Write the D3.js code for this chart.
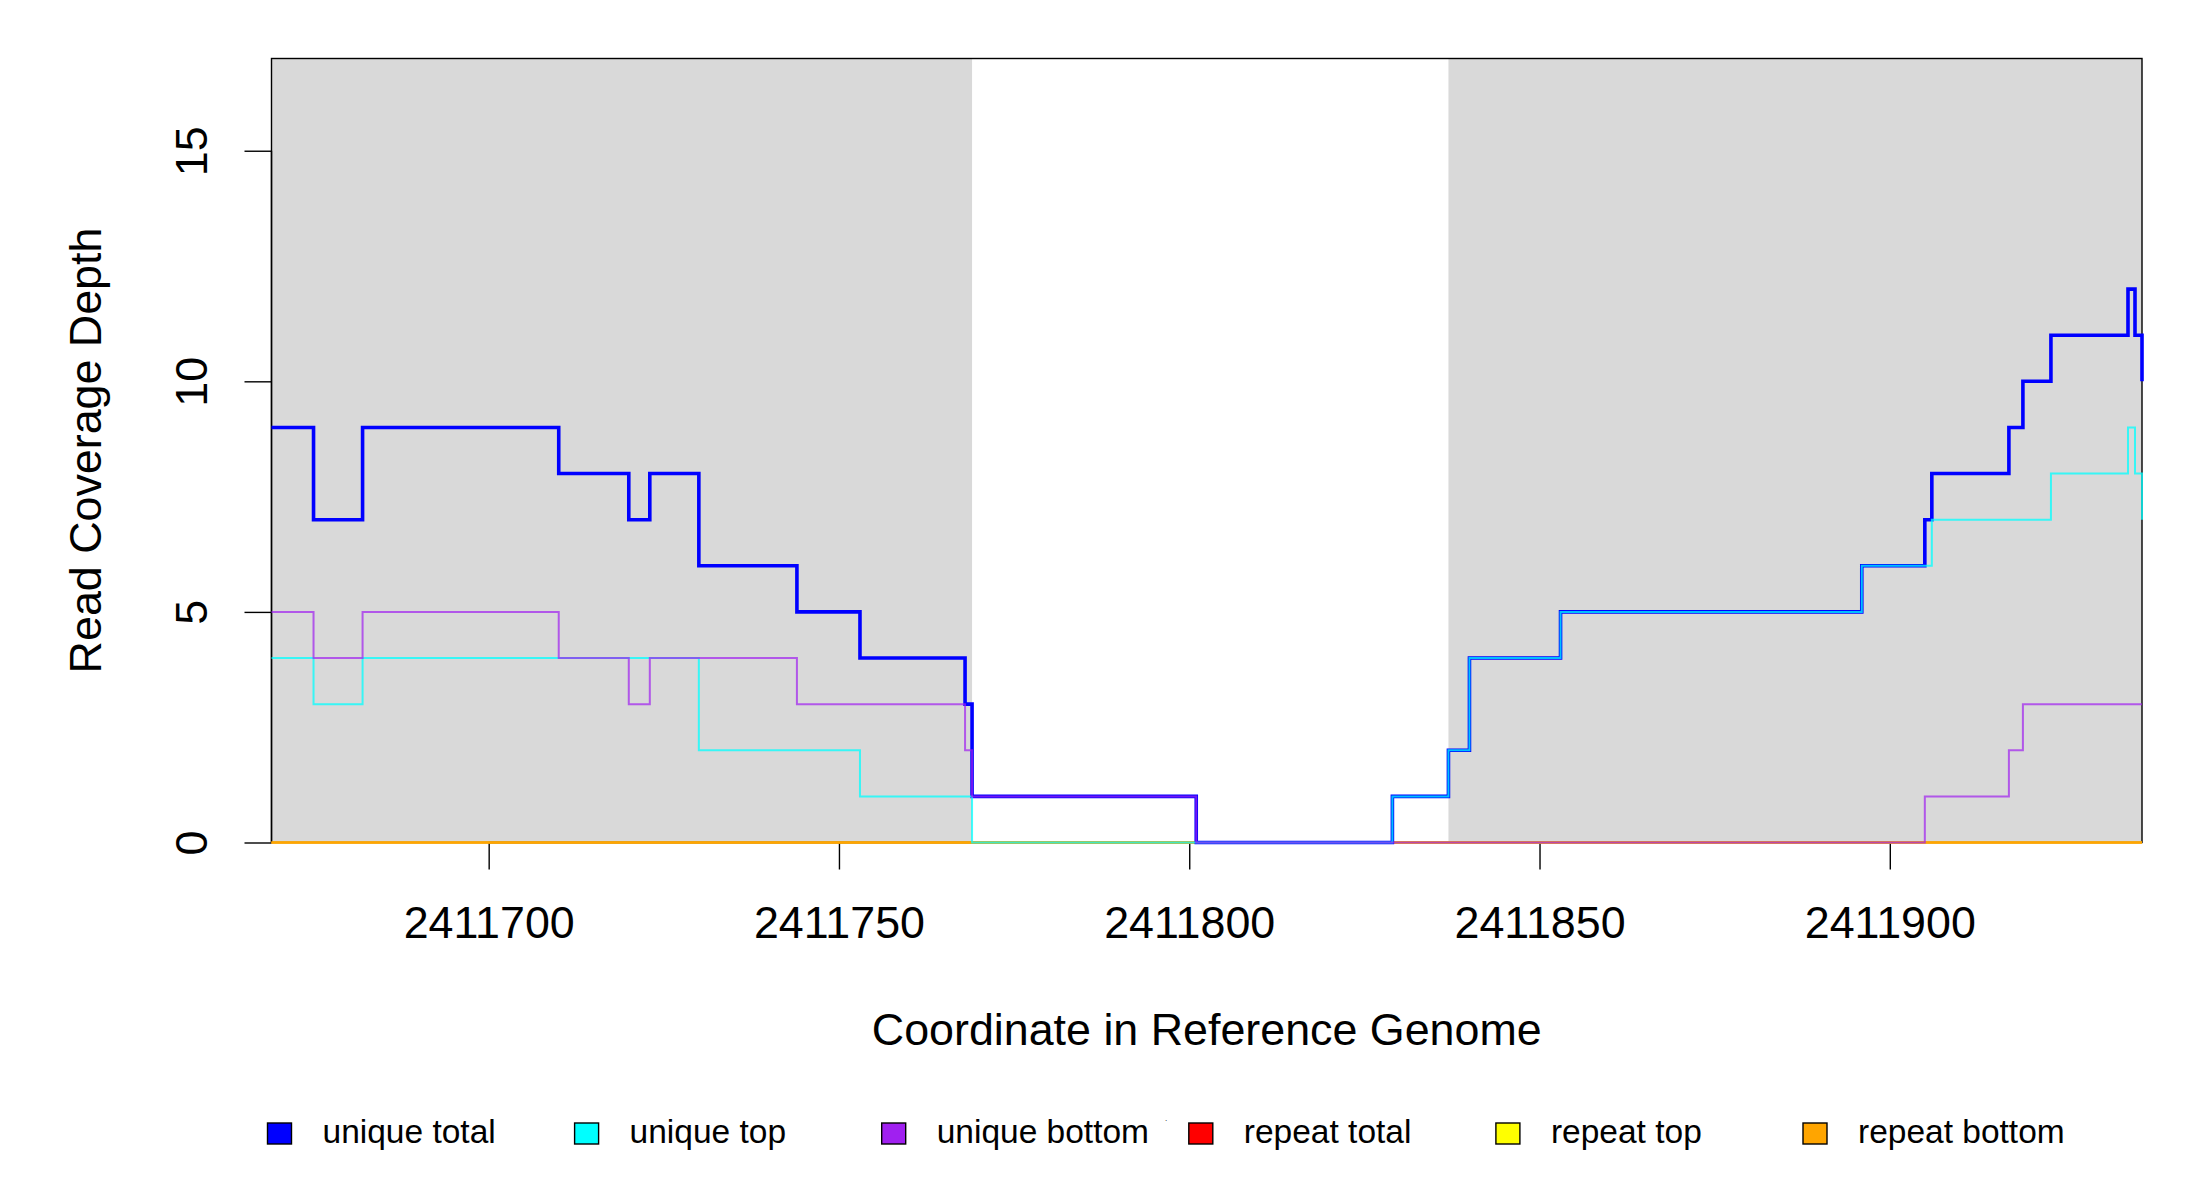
<!DOCTYPE html>
<html>
<head>
<meta charset="utf-8">
<script src="https://cdn.jsdelivr.net/npm/d3@7"></script>
<style>
  html, body { margin: 0; padding: 0; background: #fff; }
  svg { display: block; font-family: "Liberation Sans", Arial, sans-serif; }
</style>
</head>
<body>
<script>
// ---- data (step change points: coordinate -> depth) ----
const xDomain = [2411669, 2411936];
const yDomain = [0, 17];
const xTicks = [2411700, 2411750, 2411800, 2411850, 2411900];
const yTicks = [0, 5, 10, 15];
const shadedRegions = [[2411669, 2411769], [2411837, 2411936]];

const uniqueTotalX = [2411669, 2411675, 2411682, 2411710, 2411720, 2411723, 2411730, 2411744, 2411753, 2411768, 2411769, 2411801, 2411829, 2411837, 2411840, 2411853, 2411896, 2411905, 2411906, 2411917, 2411919, 2411923, 2411934, 2411935, 2411936];
const uniqueTotalY = [9, 7, 9, 8, 7, 8, 6, 5, 4, 3, 1, 0, 1, 2, 4, 5, 6, 7, 8, 9, 10, 11, 12, 11, 10];

const uniqueTopX = [2411669, 2411675, 2411682, 2411730, 2411753, 2411769, 2411829, 2411837, 2411840, 2411853, 2411896, 2411906, 2411923, 2411934, 2411935, 2411936];
const uniqueTopY = [4, 3, 4, 2, 1, 0, 1, 2, 4, 5, 6, 7, 8, 9, 8, 7];

const uniqueBottomX = [2411669, 2411675, 2411682, 2411710, 2411720, 2411723, 2411744, 2411768, 2411769, 2411801, 2411905, 2411917, 2411919, 2411936];
const uniqueBottomY = [5, 4, 5, 4, 3, 4, 3, 2, 1, 0, 1, 2, 3, 3];

const repeatTotalX = [2411669, 2411936];
const repeatTotalY = [0, 0];
const repeatTopX = [2411669, 2411936];
const repeatTopY = [0, 0];
const repeatBottomX = [2411669, 2411936];
const repeatBottomY = [0, 0];

const legendLabels = ["unique total", "unique top", "unique bottom", "repeat total", "repeat top", "repeat bottom"];
const legendColors = ["#0000FF", "#00FFFF", "#A020F0", "#FF0000", "#FFFF00", "#FFA500"];

const xLabel = "Coordinate in Reference Genome";
const yLabel = "Read Coverage Depth";

// ---- layout ----
const W = 2200, H = 1200;
const L = 271.5, R = 2142, T = 58.5, B = 842.5;
const bigFont = 44.8;

const svg = d3.select("body").append("svg").attr("width", W).attr("height", H);

const x = d3.scaleLinear().domain(xDomain).range([L, R]);
const y = d3.scaleLinear().domain(yDomain).range([B, T]);

// shaded regions
svg.append("g").selectAll("rect").data(shadedRegions).join("rect")
  .attr("x", d => x(d[0])).attr("y", T)
  .attr("width", d => x(d[1]) - x(d[0])).attr("height", B - T)
  .attr("fill", "#D9D9D9");

// box
svg.append("rect").attr("x", L).attr("y", T).attr("width", R - L).attr("height", B - T)
  .attr("fill", "none").attr("stroke", "#000").attr("stroke-width", 1.4);

// axes
const xAxis = d3.axisBottom(x).tickValues(xTicks).tickFormat(d3.format("d")).tickSize(27).tickPadding(0);
const gx = svg.append("g").attr("transform", `translate(0,${B})`).call(xAxis);
gx.select(".domain").attr("d", `M${x(xTicks[0])},0H${x(xTicks[xTicks.length - 1])}`).attr("stroke-width", 1.4);
gx.selectAll(".tick line").attr("stroke-width", 1.4);
gx.selectAll(".tick text").attr("font-size", bigFont).attr("font-family", "Liberation Sans, Arial, sans-serif")
  .attr("fill", "#000").attr("y", 95.5).attr("dy", 0);

const yAxis = d3.axisLeft(y).tickValues(yTicks).tickSize(27).tickPadding(0);
const gy = svg.append("g").attr("transform", `translate(${L},0)`).call(yAxis);
gy.select(".domain").attr("d", `M0,${y(yTicks[0])}V${y(yTicks[yTicks.length - 1])}`).attr("stroke-width", 1.4);
gy.selectAll(".tick line").attr("stroke-width", 1.4);
gy.selectAll(".tick text").remove();
gy.selectAll(".tick").append("text")
  .attr("transform", `translate(${207 - L},0) rotate(-90)`)
  .attr("text-anchor", "middle")
  .attr("font-size", bigFont)
  .attr("font-family", "Liberation Sans, Arial, sans-serif")
  .attr("fill", "#000")
  .text(d => d);

// lines
const line = d3.line().x(d => x(d[0])).y(d => y(d[1])).curve(d3.curveStepAfter);
const zip = (a, b) => a.map((v, i) => [v, b[i]]);

const series = [
  { data: zip(repeatTotalX, repeatTotalY), color: "#FF0000", w: 2, op: 1 },
  { data: zip(repeatTopX, repeatTopY), color: "#FFFF00", w: 2, op: 1 },
  { data: zip(repeatBottomX, repeatBottomY), color: "#FFA500", w: 2, op: 1 },
  { data: zip(uniqueTotalX, uniqueTotalY), color: "#0000FF", w: 3.6, op: 1 },
  { data: zip(uniqueTopX, uniqueTopY), color: "#00FFFF", w: 2, op: 0.75 },
  { data: zip(uniqueBottomX, uniqueBottomY), color: "#A020F0", w: 2, op: 0.7 }
];
svg.append("g").selectAll("path").data(series).join("path")
  .attr("d", d => line(d.data))
  .attr("fill", "none")
  .attr("stroke", d => d.color)
  .attr("stroke-width", d => d.w)
  .attr("stroke-opacity", d => d.op)
  .attr("stroke-linejoin", "miter")
  .attr("stroke-linecap", "butt");

// axis titles
svg.append("text").attr("x", (L + R) / 2).attr("y", 1045)
  .attr("text-anchor", "middle").attr("font-size", bigFont).attr("fill", "#000").text(xLabel);
svg.append("text").attr("transform", `translate(100.5,${(T + B) / 2}) rotate(-90)`)
  .attr("text-anchor", "middle").attr("font-size", bigFont).attr("fill", "#000").text(yLabel);

// legend
const legX0 = 267.5, legStep = 307.1;
const leg = svg.append("g").selectAll("g").data(legendLabels).join("g")
  .attr("transform", (d, i) => `translate(${legX0 + i * legStep},0)`);
leg.append("rect").attr("x", 0).attr("y", 1123).attr("width", 24).attr("height", 21)
  .attr("fill", (d, i) => legendColors[i]).attr("stroke", "#000").attr("stroke-width", 1.4);
leg.append("text").attr("x", 55).attr("y", 1143).attr("font-size", 33.5).attr("fill", "#000").text(d => d);
svg.append("text").attr("x", 1165).attr("y", 1121).attr("font-size", 8).attr("fill", "#000").text(".");
</script>
</body>
</html>
